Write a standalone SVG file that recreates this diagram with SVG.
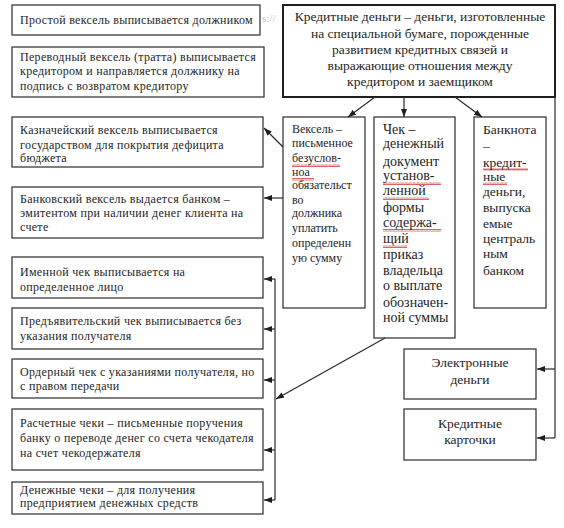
<svg xmlns="http://www.w3.org/2000/svg" width="564" height="528" viewBox="0 0 564 528" font-family="'Liberation Serif','DejaVu Serif',serif">
<style>
text{font-family:'Liberation Serif','DejaVu Serif',serif;fill:#1e1e1e}
.box{fill:#fff;stroke:#2a2a2a;stroke-width:1.2}
.main{fill:#fff;stroke:#1e1e1e;stroke-width:2}
.l{font-size:12px;letter-spacing:0.3px}
.m{font-size:13.5px;text-anchor:middle}
.v{font-size:12px}
.c{font-size:14px}
.b{font-size:13.5px}
.e{font-size:13.5px;text-anchor:middle}
.con{fill:none;stroke:#2a2a2a;stroke-width:1.2}
.sq{fill:url(#wave)}
</style>
<defs>
<marker id="ah" viewBox="0 0 8 6" refX="8" refY="3" markerWidth="8" markerHeight="6" markerUnits="userSpaceOnUse" orient="auto">
<path d="M0,0 L8,3 L0,6 z" fill="#1e1e1e"/>
</marker>
<pattern id="wave" width="4" height="3" patternUnits="userSpaceOnUse">
<path d="M0,2.5 L1,0.5 L2,2.5 L3,0.5 L4,2.5" fill="none" stroke="#d02020" stroke-width="0.7"/>
</pattern>
</defs>
<rect width="564" height="528" fill="#fff"/>
<text x="262" y="22" style="font-size:11px;fill:#c0c0c0">s://</text>

<g id="n1"><rect class="box" x="12" y="5" width="248" height="30"/><text class="l" x="20" y="24">Простой вексель выписывается должником</text></g>
<g id="n2"><rect class="box" x="12" y="47" width="252" height="50"/>
<text class="l" x="20" y="61">Переводный вексель (тратта) выписывается</text>
<text class="l" x="20" y="75">кредитором и направляется должнику на</text>
<text class="l" x="20" y="90">подпись с возвратом кредитору</text></g>
<g id="main"><rect class="main" x="283" y="5" width="272" height="92"/>
<text class="m" x="420" y="21">Кредитные деньги – деньги, изготовленные</text>
<text class="m" x="420" y="38">на специальной бумаге, порожденные</text>
<text class="m" x="420" y="54">развитием кредитных связей и</text>
<text class="m" x="420" y="70">выражающие отношения между</text>
<text class="m" x="420" y="86">кредитором и заемщиком</text></g>
<g id="n3"><rect class="box" x="12" y="117" width="251" height="50"/>
<text class="l" x="20" y="134">Казначейский вексель выписывается</text>
<text class="l" x="20" y="149">государством для покрытия дефицита</text>
<text class="l" x="20" y="162">бюджета</text></g>
<g id="n4"><rect class="box" x="12" y="187" width="251" height="51"/>
<text class="l" x="20" y="203">Банковский вексель выдается банком –</text>
<text class="l" x="20" y="217">эмитентом при наличии денег клиента на</text>
<text class="l" x="20" y="231">счете</text></g>
<g id="veksel"><rect class="box" x="283" y="117" width="82" height="191"/>
<rect class="sq" x="292" y="164" width="48" height="3"/><rect class="sq" x="292" y="178" width="22" height="3"/>
<text class="v" x="292" y="133">Вексель –</text>
<text class="v" x="292" y="147">письменное</text>
<text class="v" x="292" y="162">безуслов-</text>
<text class="v" x="292" y="176">ноа</text>
<text class="v" x="292" y="189">обязательст</text>
<text class="v" x="292" y="204">во</text>
<text class="v" x="292" y="217">должника</text>
<text class="v" x="292" y="232">уплатить</text>
<text class="v" x="292" y="247">определенн</text>
<text class="v" x="292" y="262">ую сумму</text></g>
<g id="chek"><rect class="box" x="374" y="117" width="81" height="221"/>
<rect class="sq" x="383" y="182" width="58" height="3"/><rect class="sq" x="383" y="197" width="46" height="3"/>
<rect class="sq" x="383" y="229" width="58" height="3"/><rect class="sq" x="383" y="245" width="24" height="3"/>
<text class="c" x="383" y="134">Чек –</text>
<text class="c" x="383" y="148">денежный</text>
<text class="c" x="383" y="166">документ</text>
<text class="c" x="383" y="180">установ-</text>
<text class="c" x="383" y="195">ленной</text>
<text class="c" x="383" y="212">формы</text>
<text class="c" x="383" y="227">содержа-</text>
<text class="c" x="383" y="243">щий</text>
<text class="c" x="383" y="259">приказ</text>
<text class="c" x="383" y="275">владельца</text>
<text class="c" x="383" y="290">о выплате</text>
<text class="c" x="383" y="307">обозначен-</text>
<text class="c" x="383" y="322">ной суммы</text></g>
<g id="banknota"><rect class="box" x="474" y="117" width="72" height="191"/>
<rect class="sq" x="483" y="168" width="45" height="3"/><rect class="sq" x="483" y="182" width="24" height="3"/>
<text class="b" x="483" y="134">Банкнота</text>
<text class="b" x="483" y="150">–</text>
<text class="b" x="483" y="167">кредит-</text>
<text class="b" x="483" y="181">ные</text>
<text class="b" x="483" y="196">деньги,</text>
<text class="b" x="483" y="212">выпуска</text>
<text class="b" x="483" y="228">емые</text>
<text class="b" x="483" y="243">централь</text>
<text class="b" x="483" y="258">ным</text>
<text class="b" x="483" y="275">банком</text></g>
<g id="n5"><rect class="box" x="12" y="257" width="251" height="41"/>
<text class="l" x="20" y="276">Именной чек выписывается на</text>
<text class="l" x="20" y="291">определенное лицо</text></g>
<g id="n6"><rect class="box" x="12" y="308" width="251" height="41"/>
<text class="l" x="20" y="325">Предъявительский чек выписывается без</text>
<text class="l" x="20" y="340">указания получателя</text></g>
<g id="n7"><rect class="box" x="12" y="359" width="251" height="39"/>
<text class="l" x="20" y="376">Ордерный чек с указаниями получателя, но</text>
<text class="l" x="20" y="390">с правом передачи</text></g>
<g id="n8"><rect class="box" x="12" y="409" width="251" height="61"/>
<text class="l" x="20" y="427">Расчетные чеки – письменные поручения</text>
<text class="l" x="20" y="442">банку о переводе денег со счета чекодателя</text>
<text class="l" x="20" y="457">на счет чекодержателя</text></g>
<g id="n9"><rect class="box" x="12" y="482" width="251" height="32"/>
<text class="l" x="20" y="494">Денежные чеки – для получения</text>
<text class="l" x="20" y="507">предприятием денежных средств</text></g>
<g id="el"><rect class="box" x="404" y="349" width="132" height="50"/>
<text class="e" x="470" y="367">Электронные</text>
<text class="e" x="470" y="384">деньги</text></g>
<g id="kk"><rect class="box" x="404" y="409" width="132" height="51"/>
<text class="e" x="470" y="428">Кредитные</text>
<text class="e" x="470" y="444">карточки</text></g>

<g id="connectors">
<line class="con" x1="375" y1="97" x2="348" y2="117" marker-end="url(#ah)"/>
<line class="con" x1="404" y1="97" x2="404" y2="117" marker-end="url(#ah)"/>
<line class="con" x1="455" y1="97" x2="482" y2="117" marker-end="url(#ah)"/>
<line class="con" x1="283" y1="147" x2="264" y2="128" marker-end="url(#ah)"/>
<line class="con" x1="283" y1="198" x2="264" y2="198" marker-end="url(#ah)"/>
<line class="con" x1="385" y1="338" x2="276" y2="399" marker-end="url(#ah)"/>
<polyline class="con" points="275,279 275,500"/>
<line class="con" x1="275" y1="279" x2="264" y2="279" marker-end="url(#ah)"/>
<line class="con" x1="275" y1="329" x2="264" y2="329" marker-end="url(#ah)"/>
<line class="con" x1="275" y1="380" x2="264" y2="380" marker-end="url(#ah)"/>
<line class="con" x1="275" y1="450" x2="264" y2="450" marker-end="url(#ah)"/>
<line class="con" x1="275" y1="500" x2="264" y2="500" marker-end="url(#ah)"/>
<polyline class="con" points="555,97 555,438"/>
<line class="con" x1="555" y1="369" x2="537" y2="369" marker-end="url(#ah)"/>
<line class="con" x1="555" y1="438" x2="537" y2="438" marker-end="url(#ah)"/>
</g>
</svg>
